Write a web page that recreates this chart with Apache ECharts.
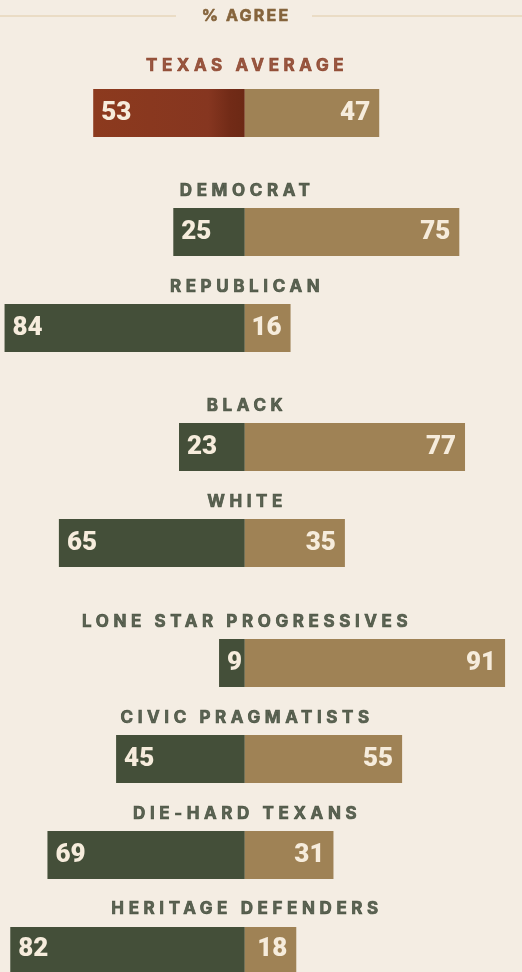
<!DOCTYPE html>
<html><head><meta charset="utf-8">
<script src="https://cdn.jsdelivr.net/npm/echarts@6/dist/echarts.min.js"></script>
<style>html,body{margin:0;padding:0;background:#F4EDE3;}#c{width:522px;height:972px;}</style>
</head><body><div id="c"></div>
<script>
// ---- data ----
const titleText = '% AGREE';
const categories = ['TEXAS AVERAGE','DEMOCRAT','REPUBLICAN','BLACK','WHITE','LONE STAR PROGRESSIVES','CIVIC PRAGMATISTS','DIE-HARD TEXANS','HERITAGE DEFENDERS'];
const agree = [53,25,84,23,65,9,45,69,82];
const disagree = [47,75,16,77,35,91,55,31,18];

// ---- layout / style ----
const rowTops = [89,208,304,423,519,639,735,831,927];
const BG = '#F4EDE3', TAN = '#9F8255', GREEN = '#444F39';
const LABEL_GREEN = '#36412F', LABEL_RED = '#823219', NUM = '#F6ECDC';
const RED_GRAD = new echarts.graphic.LinearGradient(0,0,1,0,[
  {offset:0, color:'#8C3A1E'},{offset:0.76, color:'#863620'},
  {offset:0.9, color:'#722B17'},{offset:1, color:'#6C2915'}]);

// letter spacing for spaced caps labels (canvas letterSpacing)
(function(){
  const P = CanvasRenderingContext2D.prototype;
  if (!('letterSpacing' in P)) return;
  const sp = f => /17px Inter/.test(f) ? '4.6px' : (/16px Inter/.test(f) ? '2.2px' : '0px');
  const ft = P.fillText, st = P.strokeText, mt = P.measureText;
  P.fillText = function(t,x,y,m){ this.letterSpacing = sp(this.font); return m===undefined ? ft.call(this,t,x,y) : ft.call(this,t,x,y,m); };
  P.strokeText = function(t,x,y,m){ this.letterSpacing = sp(this.font); return m===undefined ? st.call(this,t,x,y) : st.call(this,t,x,y,m); };
  P.measureText = function(t){ this.letterSpacing = sp(this.font); return mt.call(this,t); };
})();

const chart = echarts.init(document.getElementById('c'));
const grid = [], xAxis = [], yAxis = [], series = [];
categories.forEach((cat, i) => {
  grid.push({left:0, right:0, top:rowTops[i], height:48});
  xAxis.push({gridIndex:i, type:'value', min:-85.59, max:96.92, show:false});
  yAxis.push({gridIndex:i, type:'category', data:[cat], show:false});
  const numLabel = {show:true, color:NUM, fontFamily:'Roboto', fontWeight:900, fontSize:26,
    formatter: p => Math.abs(p.value)};
  series.push({type:'bar', xAxisIndex:i, yAxisIndex:i, stack:'s'+i, barWidth:'100%',
    data:[-agree[i]], itemStyle:{color: i===0 ? RED_GRAD : GREEN},
    label:Object.assign({position:'insideLeft', distance:8}, numLabel), silent:true});
  series.push({type:'bar', xAxisIndex:i, yAxisIndex:i, stack:'s'+i, barWidth:'100%',
    data:[disagree[i]], itemStyle:{color: TAN},
    label:Object.assign({position:'insideRight', distance:9}, numLabel), silent:true});
  const lc = i===0 ? LABEL_RED : LABEL_GREEN;
  series.push({type:'scatter', xAxisIndex:i, yAxisIndex:i, symbolSize:1, itemStyle:{color:'rgba(0,0,0,0)'},
    data:[[0,0]], silent:true,
    label:{show:true, position:'inside', offset:[2.3, i===0 ? -47 : -41], formatter: () => cat,
      fontFamily:'Inter', fontWeight:'bold', fontSize:17, color: lc,
      textBorderColor: lc, textBorderWidth: 0.7}});
});

chart.setOption({
  backgroundColor: BG,
  animation:false,
  grid, xAxis, yAxis, series,
  graphic:[
    {type:'line', shape:{x1:0,y1:16,x2:176,y2:16}, style:{stroke:'#EADCC5', lineWidth:2}},
    {type:'line', shape:{x1:312,y1:16,x2:522,y2:16}, style:{stroke:'#EADCC5', lineWidth:2}},
    {type:'text', x:246, y:16, style:{text:titleText, fill:'#85643C', stroke:'#85643C', lineWidth:0.6,
      font:'bold 16px Inter', align:'center', verticalAlign:'middle'}}
  ]
});
</script></body></html>
